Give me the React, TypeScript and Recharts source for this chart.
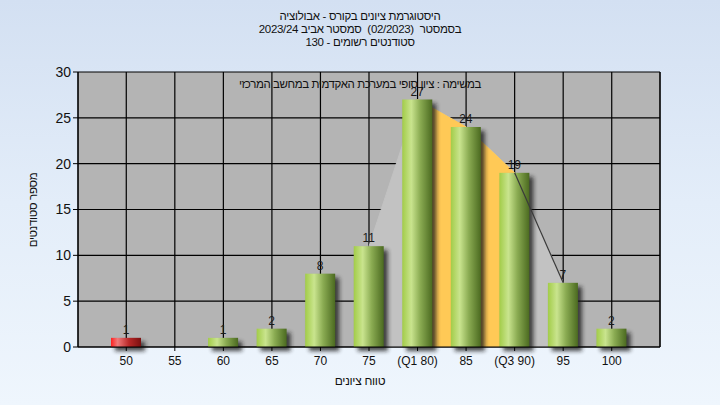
import React from 'react';
import {
  ComposedChart, Bar, Area, Line, XAxis, YAxis, CartesianGrid, LabelList,
} from 'recharts';

const categories = ['50', '55', '60', '65', '70', '75', '(Q1 80)', '85', '(Q3 90)', '95', '100'];
const counts = [1, 0, 1, 2, 8, 11, 27, 24, 19, 7, 2];
const polygonValues = [null, null, null, null, null, 11, 27, 24, 19, 7, null];
const quartileValues = [null, null, null, null, null, null, 27, 24, 19, null, null];
const edgeValues = [null, null, null, null, null, null, null, null, 19, 7, null];
const failing = [true, false, false, false, false, false, false, false, false, false, false];
const yTicks = [0, 5, 10, 15, 20, 25, 30];

const titleLines = [
  'היסטוגרמת ציונים בקורס - אבולוציה',
  'בסמסטר  (02/2023)  סמסטר אביב 2023/24',
  'סטודנטים רשומים - 130',
];
const subtitle = 'במשימה : ציון סופי במערכת האקדמית במחשב המרכזי';
const xTitle = 'טווח ציונים';
const yTitle = 'מספר סטודנטים';

const data = categories.map((c, i) => ({
  cat: c,
  count: counts[i],
  poly: polygonValues[i],
  quart: quartileValues[i],
  edge: edgeValues[i],
  fail: failing[i],
}));

const FONT = '"Liberation Sans", Arial, "DejaVu Sans", sans-serif';

const BarShape = (props: any) => {
  const { x, y, width, height, payload } = props;
  if (!height || height <= 0) return null;
  const grad = payload.fail ? 'url(#redGrad)' : 'url(#greenGrad)';
  return (
    <g>
      <rect x={x + 4} y={y + 4} width={width} height={height} fill="#1a1a1a" opacity={0.8} filter="url(#shadowBlur)" />
      <rect x={x} y={y} width={width} height={height} fill={grad} />
    </g>
  );
};

export default function App() {
  return (
    <div
      style={{
        position: 'absolute', left: 0, top: 0, width: 720, height: 405,
        background: 'linear-gradient(to bottom, #d3e0f2 0%, #e3edf9 50%, #eff6fd 100%)',
        fontFamily: FONT, overflow: 'hidden',
      }}
    >
      <ComposedChart
        width={720}
        height={405}
        data={data}
        margin={{ top: 72, right: 0, bottom: 0, left: 0 }}
        barSize={30}
      >
        <defs>
          <linearGradient id="greenGrad" x1="0" y1="0" x2="1" y2="0">
            <stop offset="0%" stopColor="#a2cc48" />
            <stop offset="30%" stopColor="#c9e48e" />
            <stop offset="60%" stopColor="#8aab52" />
            <stop offset="100%" stopColor="#4b6a20" />
          </linearGradient>
          <linearGradient id="redGrad" x1="0" y1="0" x2="1" y2="0">
            <stop offset="0%" stopColor="#ff2020" />
            <stop offset="22%" stopColor="#f07a7a" />
            <stop offset="60%" stopColor="#b82828" />
            <stop offset="100%" stopColor="#7a1010" />
          </linearGradient>
          <filter id="shadowBlur" x="-50%" y="-50%" width="200%" height="200%">
            <feGaussianBlur stdDeviation="2" />
          </filter>
        </defs>
        <CartesianGrid stroke="#000" strokeWidth={1.2} fill="#b4b4b4" fillOpacity={1} />
        <XAxis
          dataKey="cat"
          interval={0}
          padding={{ left: 24, right: 24 }}
          height={58}
          tickSize={4}
          tickMargin={5}
          axisLine={{ stroke: '#000' }}
          tickLine={{ stroke: '#000' }}
          tick={{ fill: '#111', fontSize: 12, fontFamily: FONT }}
        />
        <YAxis
          yAxisId={0}
          domain={[0, 30]}
          ticks={yTicks}
          width={78}
          tickSize={5}
          tickMargin={2}
          axisLine={{ stroke: '#000' }}
          tickLine={{ stroke: '#000' }}
          tick={{ fill: '#111', fontSize: 14, fontFamily: FONT }}
        />
        <YAxis
          yAxisId="r"
          orientation="right"
          domain={[0, 30]}
          ticks={yTicks}
          width={60}
          tickSize={5}
          tickMargin={2}
          axisLine={{ stroke: '#000' }}
          tickLine={{ stroke: '#000' }}
          tick={{ fill: '#111', fontSize: 14, fontFamily: FONT }}
        />
        <Area
          dataKey="poly"
          type="linear"
          stroke="#c2c2c2"
          fill="#c2c2c2"
          fillOpacity={1}
          isAnimationActive={false}
          dot={false}
          activeDot={false}
        />
        <Area
          dataKey="quart"
          type="linear"
          stroke="#ffc956"
          fill="#ffc956"
          fillOpacity={1}
          isAnimationActive={false}
          dot={false}
          activeDot={false}
        />
        <Line
          dataKey="edge"
          type="linear"
          stroke="#3a3a3a"
          strokeWidth={1.2}
          dot={false}
          activeDot={false}
          isAnimationActive={false}
        />
        <Bar dataKey="count" shape={BarShape} isAnimationActive={false}>
          <LabelList
            dataKey="count"
            position="top"
            offset={4}
            formatter={(v: any) => (v === 0 ? '' : v)}
            style={{ fill: '#1a1a1a', fontSize: 12, fontFamily: FONT }}
          />
        </Bar>
      </ComposedChart>

      <div style={{ position: 'absolute', left: 0, top: 10, width: 720, textAlign: 'center', fontSize: 11.5, letterSpacing: -0.3, lineHeight: '13px', color: '#111', direction: 'rtl', whiteSpace: 'pre' }}>
        {titleLines.map((t, i) => (<div key={i}>{t}</div>))}
      </div>
      <div style={{ position: 'absolute', left: 0, top: 78, width: 720, textAlign: 'center', fontSize: 11.5, letterSpacing: -0.4, color: '#111', direction: 'rtl', pointerEvents: 'none' }}>
        {subtitle}
      </div>
      <div style={{ position: 'absolute', left: 0, top: 374, width: 720, textAlign: 'center', fontSize: 12, letterSpacing: -0.3, color: '#111', direction: 'rtl' }}>
        {xTitle}
      </div>
      <div style={{ position: 'absolute', left: 33, top: 210, width: 0, height: 0 }}>
        <div style={{ position: 'absolute', transform: 'translate(-50%, -50%) rotate(-90deg)', whiteSpace: 'nowrap', fontSize: 11.5, letterSpacing: -0.3, color: '#111', direction: 'rtl' }}>
          {yTitle}
        </div>
      </div>
    </div>
  );
}
